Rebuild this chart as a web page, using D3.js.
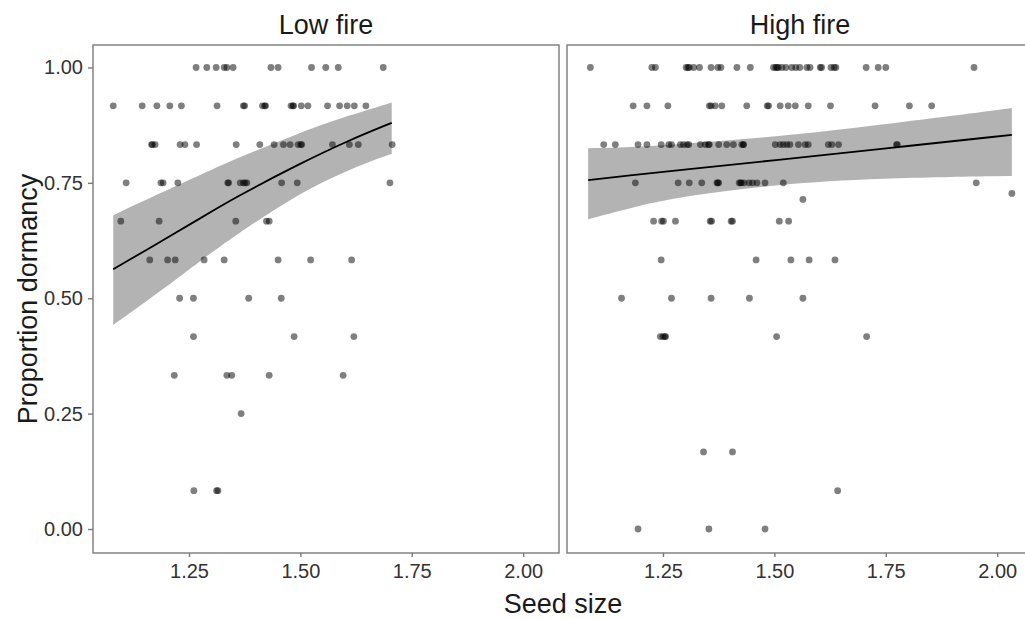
<!DOCTYPE html>
<html>
<head>
<meta charset="utf-8">
<script src="https://cdn.jsdelivr.net/npm/d3@7"></script>
<style>
  body { margin: 0; background: #fff; }
  text { font-family: "Liberation Sans", Arial, sans-serif; }
</style>
</head>
<body>
<div class="chart"></div>
<script>
//----Data----
const panels = ["Low fire", "High fire"];
const xTicks = [1.25, 1.5, 1.75, 2.0];
const yTicks = [0, 0.25, 0.5, 0.75, 1.0];

// low fire: dormancy levels and the seed sizes sitting on each
const lowLevels = [1.0, 0.917, 0.833, 0.75, 0.667, 0.583, 0.5, 0.417, 0.333, 0.25, 0.083];
const lowSeeds = [
  [1.266, 1.290, 1.311, 1.329, 1.335, 1.349, 1.434, 1.450, 1.525, 1.557, 1.585, 1.686],
  [1.080, 1.145, 1.178, 1.207, 1.233, 1.313, 1.372, 1.375, 1.415, 1.420, 1.422, 1.479, 1.483, 1.485, 1.502, 1.517, 1.561, 1.588, 1.605, 1.621, 1.647],
  [1.166, 1.168, 1.174, 1.230, 1.241, 1.267, 1.356, 1.409, 1.441, 1.462, 1.477, 1.495, 1.501, 1.503, 1.572, 1.610, 1.630, 1.706],
  [1.109, 1.187, 1.192, 1.225, 1.337, 1.339, 1.365, 1.372, 1.376, 1.380, 1.458, 1.493, 1.701],
  [1.097, 1.183, 1.355, 1.424, 1.430],
  [1.162, 1.202, 1.219, 1.284, 1.329, 1.450, 1.523, 1.615],
  [1.229, 1.260, 1.384, 1.457],
  [1.260, 1.486, 1.620],
  [1.217, 1.335, 1.346, 1.430, 1.596],
  [1.367],
  [1.261, 1.312, 1.315]
];

// high fire
const highLevels = [1.0, 0.917, 0.833, 0.75, 0.727, 0.714, 0.667, 0.583, 0.5, 0.417, 0.167, 0.083, 0.0];
const highSeeds = [
  [1.087, 1.225, 1.233, 1.302, 1.306, 1.309, 1.319, 1.332, 1.358, 1.373, 1.380, 1.416, 1.446, 1.498, 1.503, 1.506, 1.509, 1.517, 1.526, 1.539, 1.548, 1.557, 1.573, 1.580, 1.603, 1.606, 1.627, 1.634, 1.638, 1.706, 1.733, 1.750, 1.948],
  [1.183, 1.214, 1.261, 1.354, 1.358, 1.367, 1.382, 1.438, 1.484, 1.487, 1.513, 1.531, 1.547, 1.576, 1.626, 1.726, 1.803, 1.853],
  [1.117, 1.143, 1.194, 1.214, 1.246, 1.263, 1.269, 1.289, 1.296, 1.304, 1.308, 1.334, 1.345, 1.352, 1.354, 1.375, 1.393, 1.408, 1.427, 1.430, 1.431, 1.502, 1.513, 1.520, 1.528, 1.535, 1.554, 1.569, 1.576, 1.621, 1.629, 1.644, 1.774, 1.776],
  [1.188, 1.284, 1.309, 1.337, 1.371, 1.373, 1.375, 1.421, 1.424, 1.426, 1.432, 1.443, 1.451, 1.461, 1.479, 1.520, 1.953],
  [2.033],
  [1.564],
  [1.229, 1.247, 1.251, 1.278, 1.356, 1.359, 1.403, 1.406, 1.511, 1.532],
  [1.246, 1.459, 1.537, 1.578, 1.636],
  [1.157, 1.269, 1.358, 1.444, 1.564],
  [1.244, 1.250, 1.254, 1.256, 1.505, 1.707],
  [1.341, 1.406],
  [1.642],
  [1.194, 1.353, 1.479]
];

// fitted curves with confidence band
const lowFitX = [1.080, 1.200, 1.275, 1.349, 1.499, 1.611, 1.705];
const lowFit  = [0.563, 0.630, 0.673, 0.716, 0.792, 0.843, 0.880];
const lowHi   = [0.680, 0.734, 0.767, 0.800, 0.859, 0.897, 0.924];
const lowLo   = [0.442, 0.525, 0.581, 0.633, 0.729, 0.780, 0.813];

const highFitX = [1.082, 1.173, 1.285, 1.509, 1.733, 2.033];
const highFit  = [0.756, 0.766, 0.777, 0.800, 0.823, 0.854];
const highHi   = [0.825, 0.827, 0.834, 0.850, 0.875, 0.912];
const highLo   = [0.671, 0.695, 0.720, 0.747, 0.760, 0.765];

//----Layout----
const margin = {top: 45, left: 93};
const panelW = 466, panelH = 508, gap = 8;

const svg = d3.select(".chart").append("svg")
  .attr("width", 1025)
  .attr("height", 619);

const xScale = d3.scaleLinear().domain([1.0346, 2.0804]).range([0, panelW]);
const yScale = d3.scaleLinear().domain([-0.052, 1.0487]).range([panelH, 0]);

const area = d3.area()
  .x(d => xScale(d.x)).y0(d => yScale(d.lo)).y1(d => yScale(d.hi))
  .curve(d3.curveBasis);
const line = d3.line()
  .x(d => xScale(d.x)).y(d => yScale(d.y))
  .curve(d3.curveBasis);

function flatten(levels, seeds) {
  const pts = [];
  levels.forEach((lv, i) => seeds[i].forEach(s => pts.push({x: s, y: lv})));
  return pts;
}

const sets = [
  {pts: flatten(lowLevels, lowSeeds),
   fit: lowFitX.map((x, i) => ({x: x, y: lowFit[i], lo: lowLo[i], hi: lowHi[i]}))},
  {pts: flatten(highLevels, highSeeds),
   fit: highFitX.map((x, i) => ({x: x, y: highFit[i], lo: highLo[i], hi: highHi[i]}))}
];

panels.forEach((name, i) => {
  const g = svg.append("g")
    .attr("transform", `translate(${margin.left + i * (panelW + gap)},${margin.top})`);

  // band
  g.append("path")
    .datum(sets[i].fit)
    .attr("d", area)
    .attr("fill", "#b3b3b3");

  // points
  g.selectAll("circle")
    .data(sets[i].pts)
    .enter().append("circle")
    .attr("cx", d => xScale(d.x))
    .attr("cy", d => yScale(d.y))
    .attr("r", 3.4)
    .attr("fill", "#000")
    .attr("fill-opacity", 0.5);

  // fitted line
  g.append("path")
    .datum(sets[i].fit)
    .attr("d", line)
    .attr("fill", "none")
    .attr("stroke", "#000")
    .attr("stroke-width", 1.8);

  // border
  g.append("rect")
    .attr("width", panelW).attr("height", panelH)
    .attr("fill", "none")
    .attr("stroke", "#7a7a7a")
    .attr("stroke-width", 1.4);

  // x axis
  const xa = g.append("g")
    .attr("transform", `translate(0,${panelH})`)
    .call(d3.axisBottom(xScale).tickValues(xTicks).tickFormat(d3.format(".2f")).tickSize(4).tickPadding(7));
  xa.select(".domain").remove();
  xa.selectAll("line").attr("stroke", "#7a7a7a").attr("stroke-width", 1.4);
  xa.selectAll("text").attr("font-size", 20).attr("fill", "#333").attr("font-family", "Liberation Sans, Arial, sans-serif");

  // y axis only on the first panel
  if (i == 0) {
    const ya = g.append("g")
      .call(d3.axisLeft(yScale).tickValues(yTicks).tickFormat(d3.format(".2f")).tickSize(5).tickPadding(5));
    ya.select(".domain").remove();
    ya.selectAll("line").attr("stroke", "#7a7a7a").attr("stroke-width", 1.4);
    ya.selectAll("text").attr("font-size", 20).attr("fill", "#333").attr("font-family", "Liberation Sans, Arial, sans-serif");
  }

  // strip title
  g.append("text")
    .attr("x", panelW / 2)
    .attr("y", -11)
    .attr("text-anchor", "middle")
    .attr("font-size", 27)
    .attr("fill", "#1a1a1a")
    .text(name);
});

// axis titles
svg.append("text")
  .attr("x", margin.left + panelW + gap / 2)
  .attr("y", 613)
  .attr("text-anchor", "middle")
  .attr("font-size", 27)
  .attr("fill", "#1a1a1a")
  .text("Seed size");

svg.append("text")
  .attr("transform", `translate(37,${margin.top + panelH / 2}) rotate(-90)`)
  .attr("text-anchor", "middle")
  .attr("font-size", 27)
  .attr("fill", "#1a1a1a")
  .text("Proportion dormancy");
</script>
</body>
</html>
